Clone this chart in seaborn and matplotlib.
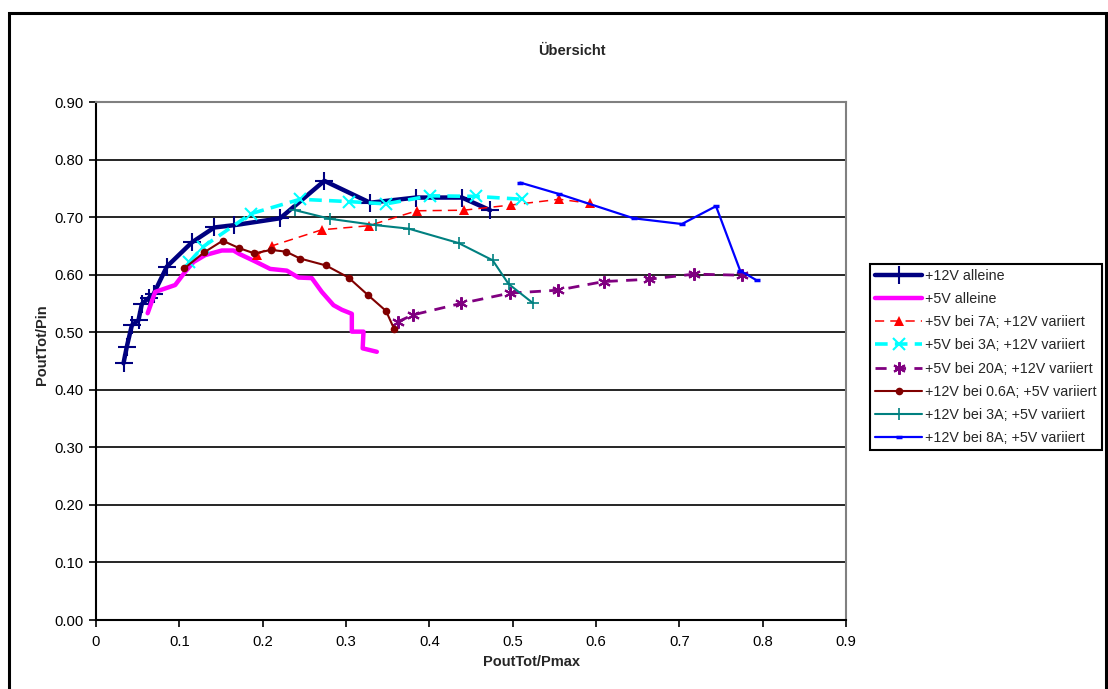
import matplotlib
matplotlib.use("Agg")
import matplotlib.pyplot as plt
import seaborn as sns
import pandas as pd
from matplotlib.patches import Rectangle

# ---- data ----
x_12v_alleine = [0.033, 0.037, 0.043, 0.051, 0.055, 0.063, 0.069, 0.085, 0.115, 0.142, 0.166, 0.221, 0.274, 0.329, 0.384, 0.439, 0.473]
y_12v_alleine = [0.446, 0.475, 0.512, 0.521, 0.549, 0.559, 0.566, 0.614, 0.656, 0.682, 0.686, 0.698, 0.763, 0.725, 0.734, 0.734, 0.712]

x_5v_alleine = [0.062, 0.071, 0.095, 0.107, 0.117, 0.131, 0.151, 0.165, 0.172, 0.191, 0.209, 0.229, 0.243, 0.259, 0.271, 0.285, 0.295, 0.307, 0.307, 0.321, 0.320, 0.337]
y_5v_alleine = [0.533, 0.570, 0.582, 0.605, 0.622, 0.634, 0.642, 0.642, 0.636, 0.623, 0.610, 0.607, 0.595, 0.594, 0.570, 0.547, 0.539, 0.532, 0.501, 0.501, 0.472, 0.466]

x_5v_7a = [0.193, 0.211, 0.271, 0.327, 0.385, 0.441, 0.498, 0.556, 0.593]
y_5v_7a = [0.634, 0.650, 0.678, 0.685, 0.711, 0.712, 0.721, 0.731, 0.724]

x_5v_3a = [0.112, 0.128, 0.186, 0.245, 0.303, 0.348, 0.401, 0.456, 0.511]
y_5v_3a = [0.622, 0.648, 0.706, 0.731, 0.727, 0.723, 0.737, 0.736, 0.731]

x_5v_20a = [0.362, 0.380, 0.438, 0.497, 0.554, 0.609, 0.663, 0.718, 0.775]
y_5v_20a = [0.518, 0.530, 0.550, 0.568, 0.573, 0.588, 0.592, 0.601, 0.599]

x_12v_06a = [0.106, 0.130, 0.152, 0.172, 0.190, 0.210, 0.228, 0.245, 0.276, 0.303, 0.326, 0.348, 0.358]
y_12v_06a = [0.611, 0.639, 0.659, 0.646, 0.637, 0.643, 0.640, 0.628, 0.616, 0.595, 0.565, 0.537, 0.505]

x_12v_3a = [0.239, 0.281, 0.336, 0.375, 0.435, 0.476, 0.495, 0.524]
y_12v_3a = [0.712, 0.697, 0.686, 0.680, 0.655, 0.625, 0.584, 0.551]

x_12v_8a = [0.509, 0.556, 0.645, 0.703, 0.744, 0.773, 0.793]
y_12v_8a = [0.760, 0.740, 0.698, 0.688, 0.719, 0.607, 0.590]

labels = ["+12V alleine", "+5V alleine", "+5V bei 7A; +12V variiert", "+5V bei 3A; +12V variiert",
          "+5V bei 20A; +12V variiert", "+12V bei 0.6A; +5V variiert", "+12V bei 3A; +5V variiert",
          "+12V bei 8A; +5V variiert"]
x_ticks = [0, 0.1, 0.2, 0.3, 0.4, 0.5, 0.6, 0.7, 0.8, 0.9]
x_tick_labels = ["0", "0.1", "0.2", "0.3", "0.4", "0.5", "0.6", "0.7", "0.8", "0.9"]
y_ticks = [0.0, 0.1, 0.2, 0.3, 0.4, 0.5, 0.6, 0.7, 0.8, 0.9]
y_tick_labels = ["0.00", "0.10", "0.20", "0.30", "0.40", "0.50", "0.60", "0.70", "0.80", "0.90"]

series = [
    (x_12v_alleine, y_12v_alleine, dict(color="#000080", lw=3.2, ls="-", marker="+", ms=13, mew=1.5)),
    (x_5v_alleine, y_5v_alleine, dict(color="#FF00FF", lw=3.2, ls="-", marker=None)),
    (x_5v_7a, y_5v_7a, dict(color="#FF0000", lw=1.1, ls=(0, (6, 4)), marker="^", ms=7.5, mew=0)),
    (x_5v_3a, y_5v_3a, dict(color="#00FFFF", lw=2.6, ls=(0, (3.5, 2)), marker="x", ms=8, mew=1.5)),
    (x_5v_20a, y_5v_20a, dict(color="#800080", lw=2.0, ls=(0, (4, 3)), marker=(6, 2, 0), ms=9, mew=1.5)),
    (x_12v_06a, y_12v_06a, dict(color="#800000", lw=1.5, ls="-", marker="o", ms=5.5, mew=0)),
    (x_12v_3a, y_12v_3a, dict(color="#008080", lw=1.5, ls="-", marker="+", ms=8, mew=1.2)),
    (x_12v_8a, y_12v_8a, dict(color="#0000FF", lw=1.6, ls="-", marker="_", ms=5, mew=2.5)),
]

sns.set_theme(style="white")
plt.rcParams['font.family'] = ['Liberation Sans', 'DejaVu Sans']

W, H = 1108, 689
fig = plt.figure(figsize=(W / 100, H / 100), dpi=100)
fig.patch.set_facecolor("white")
ax = fig.add_axes([96 / W, (H - 620) / H, 750 / W, 518 / H])

for (xs, ys, st), lab in zip(series, labels):
    df = pd.DataFrame({"x": xs, "y": ys})
    kw = dict(color=st["color"], linewidth=st["lw"], linestyle=st["ls"])
    if st.get("marker") is not None:
        kw.update(marker=st["marker"], markersize=st["ms"], markeredgewidth=st["mew"],
                  markeredgecolor=st["color"], markerfacecolor=st["color"])
    sns.lineplot(data=df, x="x", y="y", sort=False, estimator=None, ax=ax, label=lab, **kw)

ax.set_xlim(0, 0.9)
ax.set_ylim(0, 0.9)
ax.set_xticks(x_ticks)
ax.set_xticklabels(x_tick_labels)
ax.set_yticks(y_ticks)
ax.set_yticklabels(y_tick_labels)
ax.yaxis.grid(True, color="black", lw=1.2)
ax.xaxis.grid(False)
ax.set_axisbelow(True)
ax.tick_params(axis="both", direction="out", length=5, width=1.2, color="black",
               labelsize=10.7, labelcolor="black", bottom=True, left=True)
ax.tick_params(axis="y", pad=4)
ax.tick_params(axis="x", pad=6)
for s in ["left", "bottom"]:
    ax.spines[s].set_color("black")
    ax.spines[s].set_linewidth(1.5)
for s in ["top", "right"]:
    ax.spines[s].set_color("#808080")
    ax.spines[s].set_linewidth(1.5)
ax.set_xlabel("")
ax.set_ylabel("")

leg = ax.legend(loc="upper left", bbox_to_anchor=(870 / W, 1 - 264 / H), bbox_transform=fig.transFigure,
                frameon=True, fancybox=False, framealpha=1, edgecolor="black", fontsize=10.3,
                handlelength=3.3, handletextpad=0.2, labelspacing=0.64, borderpad=0.35, borderaxespad=0)
leg.get_frame().set_linewidth(1.5)

fig.text(572 / W, 1 - 51 / H, "Übersicht", ha="center", va="center", fontsize=10.5, fontweight="bold")
fig.text(532 / W, 1 - 662 / H, "PoutTot/Pmax", ha="center", va="center", fontsize=10.5, fontweight="bold")
fig.text(42 / W, 1 - 345 / H, "PoutTot/Pin", ha="center", va="center", rotation=90, fontsize=10.5, fontweight="bold")

fig.add_artist(Rectangle((9 / W, -0.05), (1106 - 9) / W, (H - 13) / H + 0.05, transform=fig.transFigure,
                         fill=False, lw=2.2, edgecolor="black", clip_on=False))

fig.savefig("out.png", dpi=100, facecolor="white")
